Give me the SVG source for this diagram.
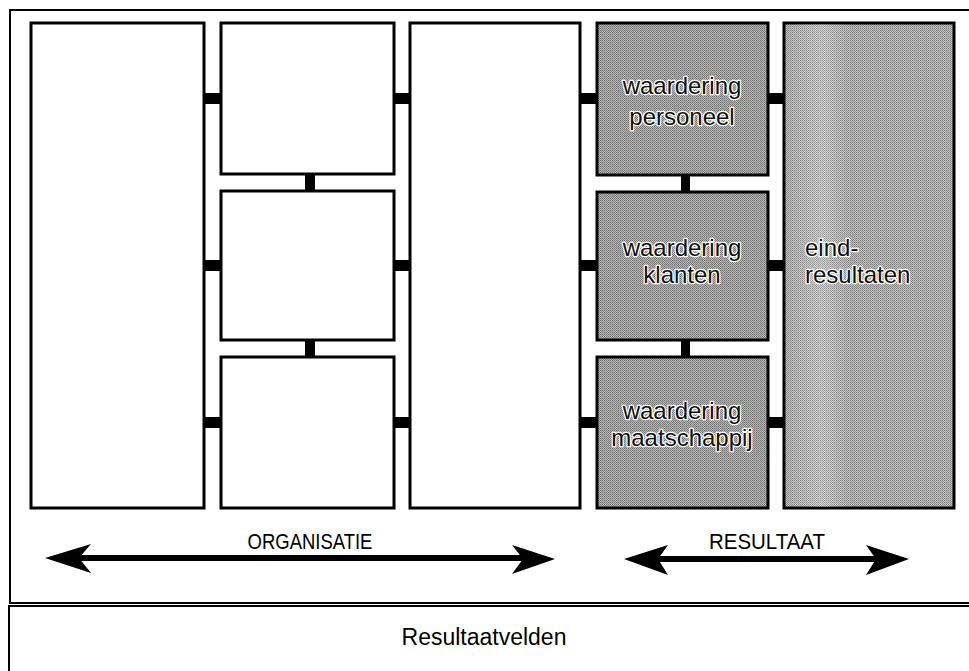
<svg xmlns="http://www.w3.org/2000/svg" width="969" height="671" viewBox="0 0 969 671">
<defs>
<style>
.box{fill:#fff;stroke:#000;stroke-width:3}
.shade{stroke:#000;stroke-width:3}
.frame{fill:none;stroke:#000;stroke-width:2}
.conn{fill:#000}
.lbl{font-family:"Liberation Sans",Arial,sans-serif;font-size:22px;fill:#000}
.in{font-family:"Liberation Sans",Arial,sans-serif;font-size:24px;fill:#111;stroke:#fff;stroke-width:2.5;paint-order:stroke;stroke-linejoin:round}
</style>
<pattern id="dots" width="2" height="2" patternUnits="userSpaceOnUse">
<rect width="2" height="2" fill="#b0b0b0"/>
<rect width="1" height="1" fill="#7a7a7a"/>
<rect x="1" y="1" width="1" height="1" fill="#888"/>
</pattern>
<pattern id="dots2" width="2" height="2" patternUnits="userSpaceOnUse">
<rect width="2" height="2" fill="#bcbcbc"/>
<rect width="1" height="1" fill="#858585"/>
<rect x="1" y="1" width="1" height="1" fill="#959595"/>
</pattern>
<linearGradient id="streak" x1="0" y1="0" x2="1" y2="0">
<stop offset="0" stop-color="#fff" stop-opacity="0"/>
<stop offset="0.22" stop-color="#fff" stop-opacity="0.25"/>
<stop offset="0.4" stop-color="#fff" stop-opacity="0"/>
<stop offset="1" stop-color="#fff" stop-opacity="0"/>
</linearGradient>
</defs>

<rect class="frame" x="10" y="10" width="975" height="593"/>
<rect class="frame" x="9" y="606" width="975" height="80"/>

<g id="connectors">
<rect class="conn" x="204" y="93" width="17" height="11"/>
<rect class="conn" x="204" y="260" width="17" height="11"/>
<rect class="conn" x="204" y="417" width="17" height="11"/>
<rect class="conn" x="394" y="93" width="17" height="11"/>
<rect class="conn" x="394" y="260" width="17" height="11"/>
<rect class="conn" x="394" y="417" width="17" height="11"/>
<rect class="conn" x="580" y="93" width="17" height="11"/>
<rect class="conn" x="580" y="260" width="17" height="11"/>
<rect class="conn" x="580" y="417" width="17" height="11"/>
<rect class="conn" x="768" y="93" width="16" height="11"/>
<rect class="conn" x="768" y="260" width="16" height="11"/>
<rect class="conn" x="768" y="417" width="16" height="11"/>
<rect class="conn" x="305" y="174" width="10" height="17"/>
<rect class="conn" x="305" y="340" width="10" height="17"/>
<rect class="conn" x="681" y="175" width="9" height="17"/>
<rect class="conn" x="681" y="340" width="9" height="17"/>
</g>

<g id="box1"><rect class="box" x="31" y="23" width="173" height="485"/></g>
<g id="box2a"><rect class="box" x="221" y="23" width="173" height="151"/></g>
<g id="box2b"><rect class="box" x="221" y="191" width="173" height="149"/></g>
<g id="box2c"><rect class="box" x="221" y="357" width="173" height="151"/></g>
<g id="box3"><rect class="box" x="410" y="23" width="170" height="485"/></g>

<g id="personeel">
<rect class="shade" x="597" y="23" width="171" height="152" fill="url(#dots)"/>
<text class="in" x="682" y="94" text-anchor="middle">waardering</text>
<text class="in" x="682" y="125" text-anchor="middle">personeel</text>
</g>
<g id="klanten">
<rect class="shade" x="597" y="192" width="171" height="148" fill="url(#dots)"/>
<text class="in" x="682" y="256" text-anchor="middle">waardering</text>
<text class="in" x="682" y="283" text-anchor="middle">klanten</text>
</g>
<g id="maatschappij">
<rect class="shade" x="597" y="357" width="171" height="151" fill="url(#dots)"/>
<text class="in" x="682" y="419" text-anchor="middle">waardering</text>
<text class="in" x="682" y="446" text-anchor="middle">maatschappij</text>
</g>
<g id="eindresultaten">
<rect class="shade" x="784" y="23" width="170" height="485" fill="url(#dots2)"/>
<rect x="785" y="24" width="168" height="483" fill="url(#streak)"/>
<text class="in" x="805" y="256">eind-</text>
<text class="in" x="805" y="283">resultaten</text>
</g>

<g id="organisatie">
<text class="lbl" transform="translate(310,549) scale(0.84,1)" text-anchor="middle">ORGANISATIE</text>
<rect x="75" y="555" width="452" height="6" fill="#000"/>
<polygon points="45,558 91,544 79,558 91,573" fill="#000"/>
<polygon points="555,559 512,545 523,559 512,574" fill="#000"/>
</g>
<g id="resultaat">
<text class="lbl" transform="translate(767,549) scale(0.93,1)" text-anchor="middle">RESULTAAT</text>
<rect x="655" y="556" width="225" height="6" fill="#000"/>
<polygon points="624,559 668,545 658,559 668,575" fill="#000"/>
<polygon points="909,559 866,545 876,559 866,575" fill="#000"/>
</g>

<g id="resultaatvelden">
<text class="lbl" x="484" y="645" text-anchor="middle" style="font-size:23px">Resultaatvelden</text>
</g>
</svg>
